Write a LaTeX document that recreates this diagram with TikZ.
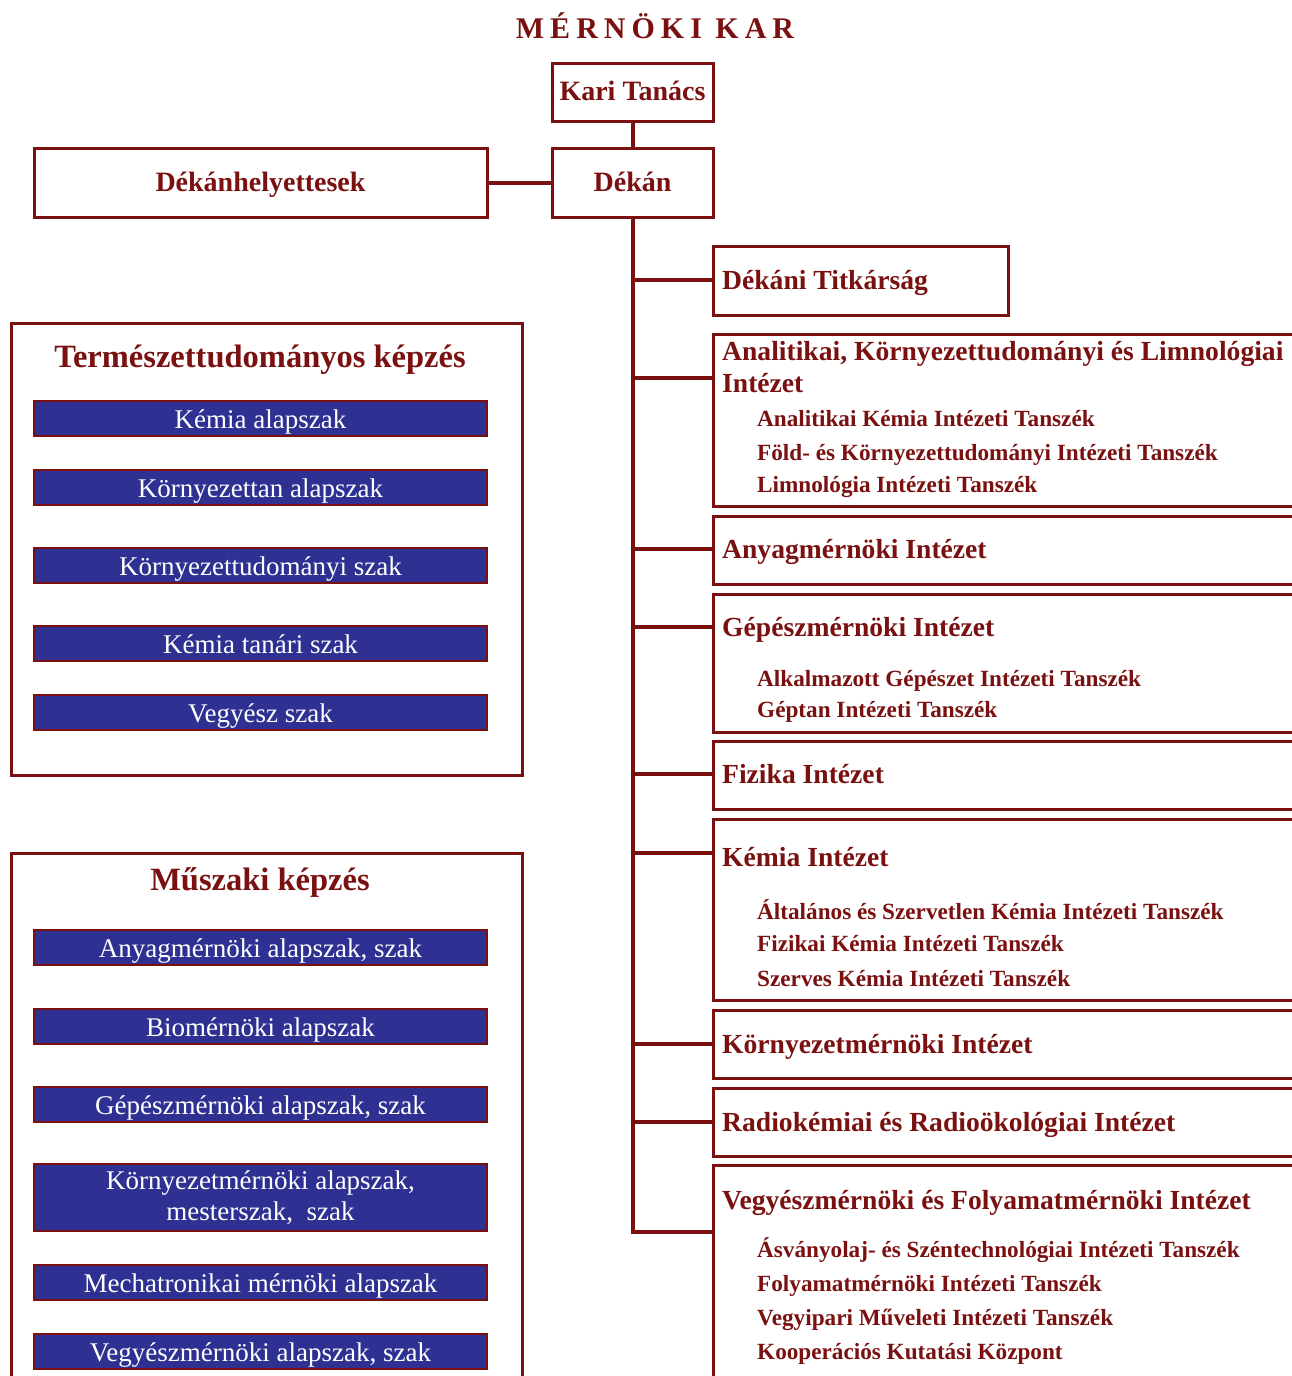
\documentclass[tikz,border=0pt]{standalone}
\usepackage{fontspec}
\setmainfont{Liberation Serif}
\newfontfamily\titlefont[LetterSpace=20]{Liberation Serif}
\definecolor{mr}{HTML}{7A1010}
\definecolor{bb}{HTML}{2E3192}
\begin{document}
\begin{tikzpicture}[x=1pt,y=-1pt,
  box/.style={draw=mr, line width=3pt, fill=white, inner sep=0pt, anchor=north west},
  cbox/.style={draw=mr, line width=3pt, fill=white, inner sep=0pt, text=mr,
     font=\bfseries\fontsize{28}{30}\selectfont, text height=19pt, text depth=2pt},
  conn/.style={draw=mr, line width=4pt},
  hd/.style={text=mr, font=\bfseries\fontsize{27.6}{30}\selectfont, anchor=base west, inner sep=0pt},
  sub/.style={text=mr, font=\bfseries\fontsize{23.2}{25}\selectfont, anchor=base west, inner sep=0pt},
  sec/.style={text=mr, font=\bfseries\fontsize{32.5}{34}\selectfont, anchor=base, inner sep=0pt},
  bar/.style={draw=mr, line width=1.3pt, fill=bb, text=white, font=\fontsize{27}{31}\selectfont,
     minimum width=453pt, minimum height=35pt, inner sep=0pt, align=center},
  bar1/.style={bar, text height=20pt, text depth=1pt}]
\useasboundingbox (0,0) rectangle (1292,1376);
\clip (0,0) rectangle (1292,1376);
\fill[white] (0,0) rectangle (1292,1376);

% title
\node[text=mr, anchor=base, inner sep=0pt, font=\titlefont\bfseries\fontsize{30}{32}\selectfont] (title) at (655,38) {MÉRNÖKI KAR};

% top boxes
\node[cbox, minimum width=161pt, minimum height=58pt] (kari) at (632.5,92) {Kari Tanács};
\node[cbox, minimum width=161pt, minimum height=69pt] (dekan) at (632.5,182.5) {Dékán};
\node[cbox, minimum width=453pt, minimum height=69pt] (dh) at (260.5,182.5) {Dékánhelyettesek};
\draw[conn] (kari.south) -- (dekan.north);
\draw[conn] (dh.east) -- (dekan.west);

% right boxes
\node[box, minimum width=295pt, minimum height=69pt] (titk) at (712,245) {};
\node[box, minimum width=600pt, minimum height=172pt] (anal) at (712,333) {};
\node[box, minimum width=600pt, minimum height=68pt] (anyag) at (712,515) {};
\node[box, minimum width=600pt, minimum height=138pt] (gep) at (712,593) {};
\node[box, minimum width=600pt, minimum height=68pt] (fiz) at (712,740) {};
\node[box, minimum width=600pt, minimum height=181pt] (kem) at (712,818) {};
\node[box, minimum width=600pt, minimum height=68pt] (korny) at (712,1009) {};
\node[box, minimum width=600pt, minimum height=68pt] (radio) at (712,1087) {};
\node[box, minimum width=600pt, minimum height=240pt] (vegy) at (712,1164) {};

% trunk
\coordinate (tend) at (632.5,1232);
\draw[conn] (dekan.south) -- (tend) -- (tend -| vegy.west);

% branches
\coordinate (b1) at (632.5,280);
\coordinate (b2) at (632.5,378);
\coordinate (b3) at (632.5,549);
\coordinate (b4) at (632.5,627);
\coordinate (b5) at (632.5,774);
\coordinate (b6) at (632.5,853);
\coordinate (b7) at (632.5,1044);
\coordinate (b8) at (632.5,1122);
\draw[conn] (b1) -- (b1 -| titk.west);
\draw[conn] (b2) -- (b2 -| anal.west);
\draw[conn] (b3) -- (b3 -| anyag.west);
\draw[conn] (b4) -- (b4 -| gep.west);
\draw[conn] (b5) -- (b5 -| fiz.west);
\draw[conn] (b6) -- (b6 -| kem.west);
\draw[conn] (b7) -- (b7 -| korny.west);
\draw[conn] (b8) -- (b8 -| radio.west);

% right texts
\node[hd] (t1) at (722,289) {Dékáni Titkárság};
\node[hd] (t2a) at (722,360) {Analitikai, Környezettudományi és Limnológiai};
\node[hd] (t2b) at (722,392) {Intézet};
\node[sub] (s21) at (757,426.5) {Analitikai Kémia Intézeti Tanszék};
\node[sub] (s22) at (757,460.5) {Föld- és Környezettudományi Intézeti Tanszék};
\node[sub] (s23) at (757,492.5) {Limnológia Intézeti Tanszék};
\node[hd] (t3) at (722,558) {Anyagmérnöki Intézet};
\node[hd] (t4) at (722,636) {Gépészmérnöki Intézet};
\node[sub] (s41) at (757,686.5) {Alkalmazott Gépészet Intézeti Tanszék};
\node[sub] (s42) at (757,717.5) {Géptan Intézeti Tanszék};
\node[hd] (t5) at (722,783) {Fizika Intézet};
\node[hd] (t6) at (722,866) {Kémia Intézet};
\node[sub] (s61) at (757,919.5) {Általános és Szervetlen Kémia Intézeti Tanszék};
\node[sub] (s62) at (757,951.5) {Fizikai Kémia Intézeti Tanszék};
\node[sub] (s63) at (757,986.5) {Szerves Kémia Intézeti Tanszék};
\node[hd] (t7) at (722,1053) {Környezetmérnöki Intézet};
\node[hd] (t8) at (722,1131) {Radiokémiai és Radioökológiai Intézet};
\node[hd] (t9) at (722,1209) {Vegyészmérnöki és Folyamatmérnöki Intézet};
\node[sub] (s91) at (757,1257.5) {Ásványolaj- és Széntechnológiai Intézeti Tanszék};
\node[sub] (s92) at (757,1291.5) {Folyamatmérnöki Intézeti Tanszék};
\node[sub] (s93) at (757,1325.5) {Vegyipari Műveleti Intézeti Tanszék};
\node[sub] (s94) at (757,1359.5) {Kooperációs Kutatási Központ};

% left sections
\node[box, minimum width=511pt, minimum height=452pt] (term) at (10,322) {};
\node[sec] (termt) at (260,367) {Természettudományos képzés};
\node[bar1] (k1) at (260.5,418.5) {Kémia alapszak};
\node[bar1] (k2) at (260.5,487.5) {Környezettan alapszak};
\node[bar1] (k3) at (260.5,565.5) {Környezettudományi szak};
\node[bar1] (k4) at (260.5,643.5) {Kémia tanári szak};
\node[bar1] (k5) at (260.5,712.5) {Vegyész szak};

\node[box, minimum width=511pt, minimum height=560pt] (musz) at (10,852) {};
\node[sec] (muszt) at (260,890) {Műszaki képzés};
\node[bar1] (m1) at (260.5,947.5) {Anyagmérnöki alapszak, szak};
\node[bar1] (m2) at (260.5,1026.5) {Biomérnöki alapszak};
\node[bar1] (m3) at (260.5,1104.5) {Gépészmérnöki alapszak, szak};
\node[bar, minimum height=67pt] (m4) at (260.5,1197.5) {Környezetmérnöki alapszak,\\mesterszak,~ szak};
\node[bar1] (m5) at (260.5,1282.5) {Mechatronikai mérnöki alapszak};
\node[bar1] (m6) at (260.5,1351.5) {Vegyészmérnöki alapszak, szak};
\end{tikzpicture}
\end{document}
